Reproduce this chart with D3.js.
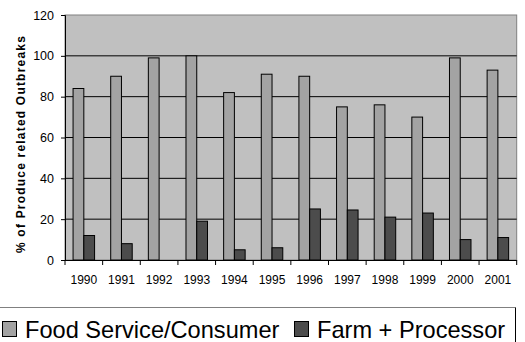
<!DOCTYPE html>
<html><head><meta charset="utf-8">
<script src="https://cdn.jsdelivr.net/npm/d3@7"></script>
<style>
html,body{margin:0;padding:0;background:#fff;}
svg{display:block;}
text{font-family:Arial,"Liberation Sans",sans-serif;}
</style></head>
<body>
<svg id="c" width="525" height="342"></svg>
<script>
const years = ["1990","1991","1992","1993","1994","1995","1996","1997","1998","1999","2000","2001"];
const foodService = [84, 90, 99, 100, 82, 91, 90, 75, 76, 70, 99, 93];
const farmProcessor = [12, 8, 0, 19, 5, 6, 25, 24.5, 21, 23, 10, 11];
const yTicks = [0, 20, 40, 60, 80, 100, 120];
const seriesNames = ["Food Service/Consumer", "Farm + Processor"];
const seriesColors = ["#A3A3A3", "#4C4C4C"];
const FONT = 'Arial,"Liberation Sans",sans-serif';

const svg = d3.select("#c");
const L = 65, R = 516.7, T = 15, B = 260;

const x = d3.scaleBand().domain(years).range([L, R]).paddingInner(0).paddingOuter(0);
const bw = x.bandwidth();
const barW = bw / 3.5;
const y = d3.scaleLinear().domain([0, 120]).range([B, T]);

// plot background
svg.append("rect").attr("x", L).attr("y", T).attr("width", R - L).attr("height", B - T)
  .attr("fill", "#C0C0C0").attr("stroke", "#808080").attr("stroke-width", 1);

// gridlines
svg.append("g").selectAll("line").data(yTicks.filter(d => d > 0 && d < 120)).join("line")
  .attr("x1", L).attr("x2", R).attr("y1", d => y(d)).attr("y2", d => y(d))
  .attr("stroke", "#000").attr("stroke-width", 1);

// bars
const data = years.map((yr, i) => ({yr, vals: [foodService[i], farmProcessor[i]]}));
const g = svg.append("g");
data.forEach(d => {
  d.vals.forEach((v, s) => {
    if (v <= 0) return;
    g.append("rect")
      .attr("x", x(d.yr) + barW * 0.75 + s * barW)
      .attr("y", y(v))
      .attr("width", barW)
      .attr("height", y(0) - y(v))
      .attr("fill", seriesColors[s])
      .attr("stroke", "#000").attr("stroke-width", 1);
  });
});

// y axis
const yAxis = d3.axisLeft(y).tickValues(yTicks).tickSize(4).tickPadding(7);
const ya = svg.append("g").attr("transform", `translate(${L},0)`).call(yAxis);
ya.select(".domain").attr("stroke", "#000");
ya.selectAll(".tick line").attr("stroke", "#000");
ya.selectAll("text").attr("font-size", 12.5).attr("fill", "#000").style("font-family", FONT);

// x axis
const xa = svg.append("g").attr("transform", `translate(0,${B})`)
  .call(d3.axisBottom(x).tickSize(0).tickPadding(15));
xa.select(".domain").attr("stroke", "#000").attr("d", `M${L},0.5H${R}`);
xa.selectAll("text").attr("font-size", 12).attr("fill", "#000").style("font-family", FONT);
// boundary ticks
const bounds = years.map(d => x(d)).concat([R]);
svg.append("g").selectAll("line").data(bounds).join("line")
  .attr("x1", d => d).attr("x2", d => d).attr("y1", B).attr("y2", B + 5)
  .attr("stroke", "#000");

// y title
svg.append("text")
  .attr("transform", `translate(24.5,144) rotate(-90)`)
  .attr("text-anchor", "middle")
  .attr("font-size", 12).attr("font-weight", "bold")
  .style("letter-spacing", "1.2px")
  .text("% of Produce related Outbreaks");

// legend
const lg = svg.append("g");
lg.append("line").attr("x1", 0).attr("x2", 515.5).attr("y1", 307.5).attr("y2", 307.5).attr("stroke", "#808080");
lg.append("line").attr("x1", 515.5).attr("x2", 515.5).attr("y1", 307.5).attr("y2", 342).attr("stroke", "#000");
const legX = [2.5, 294.5];
const legTX = [25, 317];
seriesNames.forEach((n, i) => {
  lg.append("rect").attr("x", legX[i]).attr("y", 321.5).attr("width", 14).attr("height", 15)
    .attr("fill", seriesColors[i]).attr("stroke", "#000");
  lg.append("text").attr("x", legTX[i]).attr("y", 337.5).attr("font-size", 23.6).attr("fill", "#000").text(n);
});
</script>
</body></html>
